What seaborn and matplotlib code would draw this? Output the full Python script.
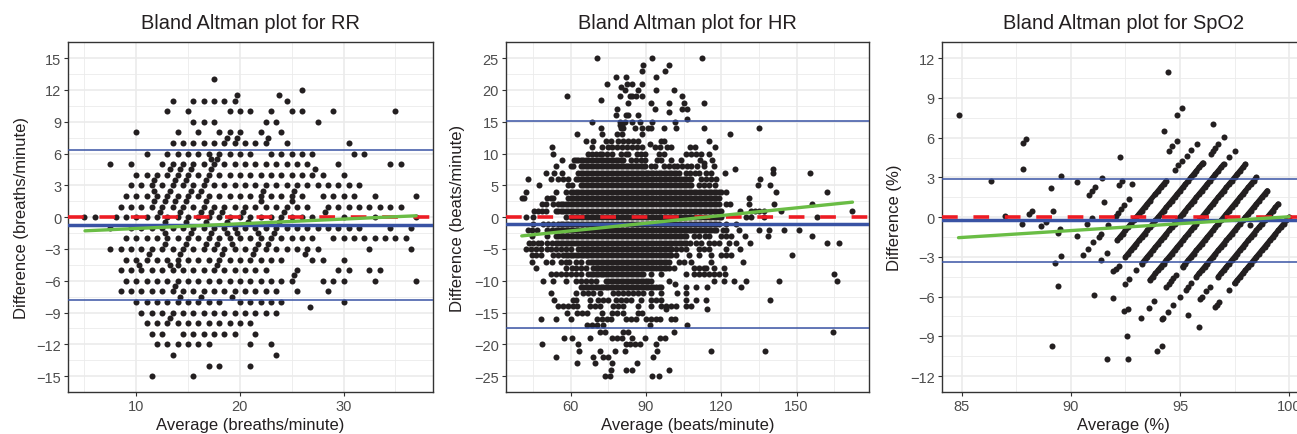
import matplotlib
matplotlib.use("Agg")
import matplotlib.pyplot as plt
import pandas as pd
import seaborn as sns
from matplotlib.ticker import MultipleLocator

# RR: one list of averages per difference level
rr_levels = [13, 12, 11.5, 11, 10, 9, 8, 7.5, 7, 6, 5.5, 5, 4.5, 4, 3.5, 3, 2.5, 2, 1.5, 1, 0.5, 0,
             -0.5, -1, -1.5, -2, -2.5, -3, -3.5, -4, -4.5, -5, -5.5, -6, -6.5, -7, -7.5, -8, -8.5,
             -9, -9.5, -10, -11, -12, -13, -14, -15]
rr_rows = [
    [17.5],
    [26],
    [19.75, 23.75],
    [13.5, 15.5, 16.5, 17.5, 18.5, 19.5, 24.5],
    [13, 15, 19, 20, 21, 23, 25, 26, 29, 35],
    [15.5, 16.5, 17.5, 22.5, 23.5, 27.5],
    [10, 14, 16, 18, 19, 20, 22, 24],
    [18.75, 19.75, 22.75],
    [13.5, 14.5, 15.5, 16.5, 17.5, 18.5, 19.5, 20.5, 21.5, 22.5, 24.5, 30.5],
    [11, 13, 14, 15, 16, 17, 18, 19, 20, 21, 23, 24, 25, 26, 27, 31, 32],
    [17.75, 17.25],
    [7.5, 9.5, 12.5, 13.5, 14.5, 15.5, 16.5, 17.5, 18.5, 19.5, 20.5, 21.5, 22.5, 23.5, 24.5, 25.5, 26.5,
     29.5, 34.5, 35.5],
    [13.25, 14.25, 15.25, 17.25, 27.25],
    [10, 11, 12, 13, 14, 15, 16, 17, 18, 19, 20, 21, 22, 23, 24, 25, 26, 27, 28, 30],
    [11.75, 13.75, 14.75, 16.75],
    [9.5, 10.5, 11.5, 12.5, 13.5, 14.5, 15.5, 16.5, 17.5, 18.5, 19.5, 20.5, 21.5, 22.5, 23.5, 24.5, 25.5,
     26.5, 27.5, 28.5, 29.5, 30.5, 31.5],
    [11.75, 13.25, 15.25, 16.25, 22.25, 25.25],
    [9, 10, 11, 12, 13, 14, 15, 16, 17, 18, 19, 20, 21, 22, 23, 24, 25, 26, 28, 29, 30, 31, 33, 37],
    [11.75, 12.75, 13.75, 14.75, 16.75, 22, 25],
    [8.5, 9.5, 10.5, 11.5, 12.5, 13.5, 14.5, 15.5, 16.5, 17.5, 18.5, 19.5, 20.5, 21.5, 22.5, 23.5, 24.5,
     25.5, 26.5, 28.5, 29.5, 30.5, 31.5, 32.5, 33.5, 34.5, 35.5],
    [12.25, 14.25, 16.25, 17.25, 18.25, 20.25, 24.25, 28.25],
    [5, 6, 8, 9, 10, 11, 12, 13, 14, 15, 16, 17, 18, 19, 20, 21, 22, 23, 24, 25, 26, 27, 30, 33, 37],
    [12.75, 14.75, 16.75, 18.75, 20.75, 23.75],
    [7.5, 9.5, 10.5, 11.5, 12.5, 13.5, 14.5, 15.5, 16.5, 17.5, 18.5, 19.5, 20.5, 21.5, 22.5, 23.5, 24.5,
     25.5, 26.5, 27.5, 28.5, 29.5, 30.5, 31.5, 34.5, 36.5],
    [12.75, 15.25, 17.25, 18.75, 19.75, 21.75, 23.25],
    [9, 10, 11, 12, 13, 14, 15, 16, 17, 18, 19, 20, 21, 22, 23, 24, 25, 26, 27, 29, 30, 31, 32, 33, 34,
     35, 36],
    [12.75, 14.75, 16.75, 17.75, 19.25, 21.75, 22.75],
    [7.5, 8.5, 9.5, 10.5, 11.5, 12.5, 13.5, 14.5, 15.5, 16.5, 17.5, 18.5, 19.5, 20.5, 21.5, 22.5, 23.5,
     24.5, 25.5, 26.5, 27.5, 32.5, 36.5],
    [11.25, 14.25, 18.25, 21.25, 26.25],
    [9, 10, 11, 12, 13, 14, 15, 16, 17, 18, 19, 20, 21, 22, 23, 24, 27, 28, 30],
    [10.25, 13.25, 14, 17.75],
    [8.5, 9.5, 10.5, 11.5, 12.5, 13.5, 14.5, 15.5, 16.5, 17.5, 18.5, 19.5, 20.5, 21.5, 22.5, 25.5, 29.5,
     30.5, 32.5, 33.5],
    [25.25],
    [9, 10, 11, 12, 13, 14, 15, 16, 17, 18, 19, 20, 21, 22, 23, 24, 25, 28, 29, 30, 33, 37],
    [13.75],
    [8.5, 9.5, 10.5, 11.5, 12.5, 13.5, 14.5, 15.5, 16.5, 17.5, 18.5, 19.5, 20.5, 21.5, 22.5, 23.5, 25.5,
     28.5],
    [14.25, 16.25, 19.25],
    [10, 11, 12, 13, 14, 15, 16, 17, 18, 20, 21, 22, 23, 24, 30],
    [26.75],
    [10.5, 11.5, 12.5, 13.5, 14.5, 15.5, 16.5, 17.5, 18.5, 19.5, 20.5, 21.5, 22.5, 23.5],
    [13.25],
    [11, 12, 13, 14, 15, 16, 17, 18, 19, 20, 21],
    [11.5, 12.5, 14.5, 15.5, 16.5, 17.5, 18.5, 19.5, 21.5],
    [12, 13, 14, 15, 16, 17, 21, 23],
    [13.5, 23.5],
    [17, 18, 21],
    [11.5, 15.5],
]

# HR: one list of averages per difference level
hr_levels = [25, 24, 23, 22, 21, 20.5, 20, 19, 18.5, 18, 17, 16.5, 16, 15.5, 15, 14.5, 14, 13, 12, 11.5, 11,
             10, 9, 8.5, 8, 7.5, 7, 6, 5, 4, 3, 2, 1, 0, -1, -2, -3, -4, -5, -6, -7, -8, -9, -10, -10.5,
             -11, -12, -13, -14, -14.5, -15, -16, -17, -18, -19, -20, -21, -22, -23, -24, -25]
hr_rows = [
    [70.5, 92.5, 112.5],
    [89, 99],
    [88.5, 97.5],
    [78, 82, 94],
    [74.5, 82.5, 84.5, 88.5],
    [80.2],
    [81.5, 87, 94, 101],
    [58.5, 79.5, 83.5, 84.5, 86, 88.5, 104.5],
    [72],
    [83, 92, 99, 105, 113],
    [78.5, 93.5, 104.5, 106.5],
    [99],
    [78, 82, 83, 87],
    [106.5],
    [68.5, 79.5, 81.5, 84.5, 87.5, 92.5, 101.5],
    [79.5, 80.5],
    [72, 80, 81, 85.5, 88.5, 91, 92, 97, 102, 113, 135],
    [62.5, 72.5, 78.5, 80.5, 88.5, 123.5],
    [66, 69, 74, 76, 79, 81, 83, 85, 87, 96, 97, 115],
    [91.5],
    [52.5, 68.5, 72.5, 75, 76.5, 78.5, 80.5, 82.5, 84.5, 86.5, 88.5, 93.5, 95.5, 98.5, 100, 107.5, 109.5, 117.5],
    [53, 67, 68.5, 70, 71.5, 72.5, 74.5, 76.5, 80, 82, 83, 86.5, 88, 89.5, 95, 97, 106, 108, 110, 112, 115],
    [56.5, 61.5, 63, 65, 67, 69, 71, 73, 75, 77, 79, 81, 84, 86, 88, 89.5, 94.5, 96, 100, 104, 111.5, 116.5],
    [113],
    [54, 60, 61, 64, 66, 68, 70, 72, 74, 76, 78, 80, 82, 84, 86, 88, 89.5, 92, 93.5, 97, 99, 101, 102.5, 104.5,
     106.5, 108, 110.5, 113, 117],
    [125.5, 140.5],
    [50, 53.5, 56.5, 63, 65, 67, 69, 71, 73, 75, 77, 79, 81, 83, 85, 87, 89, 91, 93, 95, 97, 99, 101, 103, 106,
     107.5, 109.5, 111, 114, 116, 121.5, 140.5, 155.5],
    [43, 52, 55, 57, 59, 62, 64, 66, 68, 70, 72, 74, 76, 78, 80, 82, 84, 86, 88, 90, 92, 94, 96, 98, 100, 102,
     104, 106, 108, 112, 114, 116, 118, 135.5],
    [47.5, 59, 60.5, 64, 66, 68, 70, 72, 74, 76, 78, 80, 82, 84, 86, 88, 90, 92, 94, 96, 98, 100, 102, 104, 106,
     108, 111, 113, 115, 117.5, 134.5, 139.5],
    [42, 54, 58, 60, 62, 64, 66, 68, 70, 72, 74, 76, 78, 80, 82, 84, 86, 88, 90, 92, 94, 96, 98, 100, 102, 104,
     106, 108, 110, 112, 114, 116, 118, 120, 122, 142, 162],
    [40.5, 41.5, 50.5, 52, 53, 59, 61, 63, 65, 67, 69, 71, 73, 75, 77, 79, 81, 83, 85, 87, 89, 91, 93, 95, 97, 99,
     101, 103, 105, 107, 109, 111, 113, 115, 117, 119, 131],
    [48.5, 50, 53, 55, 57, 59, 61, 63, 65, 67, 69, 71, 73, 75, 77, 79, 81, 83, 85, 87, 89, 91, 93, 95, 97, 99, 101,
     103, 105, 107, 109, 111, 113, 115, 117, 119, 122, 123.5, 131, 141, 156],
    [45.5, 47, 48.5, 50, 54, 56, 58, 60, 62, 64, 66, 68, 70, 72, 74, 76, 78, 80, 82, 84, 86, 88, 90, 92, 94, 96, 98,
     100, 102, 104, 106, 108, 110, 112, 114, 116, 118, 120, 127.5, 132, 133.5, 135, 137, 144, 172],
    [42, 45, 58, 60, 62, 64, 66, 68, 70, 72, 74, 76, 78, 80, 82, 84, 86, 88, 90, 92, 94, 96, 98, 100, 102, 104, 106,
     108, 110, 112, 114, 116, 118, 120, 130, 132, 137, 158],
    [45, 49, 51, 53, 55, 57, 59, 61, 63, 65, 67, 69, 71, 73, 75, 77, 79, 81, 83, 85, 87, 89, 91, 93, 95, 97, 99, 101,
     103, 105, 107, 109, 111, 113, 115, 117, 119, 122, 126],
    [43, 44.5, 46.5, 50.5, 52.5, 54, 56, 58, 60, 62, 64, 66, 68, 70, 72, 74, 76, 78, 80, 82, 84, 86, 88, 90, 92, 94,
     96, 98, 100, 102, 104, 106, 108, 110, 112, 114, 116, 118, 120.5, 122, 127, 135, 139, 145, 151],
    [44.5, 50.5, 54, 56, 58, 60, 62, 64, 66, 68, 70, 72, 74, 76, 78, 80, 82, 84, 86, 88, 90, 92, 94, 96, 98, 100, 102,
     104, 106, 109, 111, 113.5, 115, 120, 122, 124, 129.5, 138.5, 156],
    [43.5, 45, 47, 48, 50.5, 52.5, 54, 56, 58, 60, 62, 64, 66, 68, 70, 72, 74, 76, 78, 80, 82, 84, 86, 88, 90, 92, 94,
     96, 98, 100, 102, 104, 106, 107.5, 110, 112, 115, 117, 119, 123, 126, 131.5, 162, 167],
    [42, 44, 46, 48, 50.5, 52, 54, 56, 58, 60, 63, 65, 67, 69, 71, 73, 75, 77, 79, 81, 83, 85, 87, 89, 91, 93, 95, 97,
     99, 100, 102, 104, 106, 111, 113, 115, 122, 127.5],
    [44.5, 46, 48, 53, 55, 57, 59, 61, 63, 65, 67, 69, 71, 73, 75, 77, 79, 81, 83, 85, 87, 89, 91, 93, 95, 97, 99, 102,
     107, 111, 116, 120, 122, 124, 148],
    [44.5, 50, 52.5, 56, 58, 59.5, 62, 64, 67, 69, 71, 73, 75, 77, 79, 81, 83, 85, 87, 89, 91, 93, 95, 97, 99, 103, 105,
     108, 116, 128.5],
    [46, 58, 60.5, 62, 64, 66, 69, 71, 73, 75, 77, 79, 81, 83, 85, 87, 89, 91, 93, 95, 97, 99, 101, 109, 111, 113, 114,
     117, 121],
    [52, 54, 56, 58, 60, 62, 64, 67, 69, 71, 73, 75, 77, 79, 81, 83, 85, 87, 89, 92, 96, 106, 109, 111, 113, 115, 117,
     119, 121.5, 165],
    [49, 53, 58, 62, 64, 66, 68, 70, 74, 76, 78, 80, 82, 84, 86, 88, 90, 92, 99, 117, 121, 125, 130, 143, 166],
    [101.5],
    [64, 66, 68, 70, 72, 74, 76, 78, 80, 82, 84, 86, 88, 90, 92, 94, 96, 106, 110, 114.5, 128],
    [52, 62, 65, 67, 69, 71.5, 77, 79, 81, 83, 85, 87, 89, 92, 96, 102.5, 106],
    [53.5, 61, 62, 67.5, 71, 73, 75, 78, 80, 82, 84, 88, 92, 94, 96, 106, 110, 114, 139.5],
    [55, 57, 59, 61, 62.5, 67.5, 69.5, 71.5, 77, 79, 81, 87, 92, 96, 98, 100, 102, 106, 108],
    [98, 114.5],
    [58.5, 62.5, 64.5, 66.5, 72.5, 76.5, 78.5, 81, 87, 88.5],
    [48, 54, 60, 70.5, 72.5, 74.5, 76, 82, 84, 86, 90, 92, 94, 95.5, 100, 101.5],
    [66.5, 68.5, 70.5, 73, 91.5, 106.5],
    [71.5, 73.5, 81, 83, 101, 164.5],
    [57.5, 60.5, 67.5, 76.5, 78.5, 80.5, 84.5, 89.5, 95.5, 97.5],
    [48.5, 63, 82, 83.5, 85.5, 87.5, 94],
    [63.5, 71.5, 77.5, 81.5, 94.5, 116, 137.5],
    [54, 69, 73, 75, 93],
    [62.5, 69.5, 76.5, 86.5],
    [76, 82, 84.5, 99],
    [73.5, 75.5, 92.5, 95],
]

# HR: the solid black bands hold many more readings per level
hr_band_levels = [9, 8, 7, 6, 5, 4, 3, 2, 1, 0, -1, -2, -3, -4, -5, -6, -7, -8, -9, -10, -11]
hr_band_rows = [
    [62, 64, 66, 68, 70, 72, 74, 76, 78, 80],
    [65, 67, 69, 71, 73, 75, 77, 79, 81, 83, 85, 87, 89],
    [64, 66, 68, 70, 72, 74, 76, 78, 80, 82, 84, 86, 88, 90, 92, 94, 96, 98, 100, 102],
    [63, 65, 67, 69, 71, 73, 75, 77, 79, 81, 83, 85, 87, 89, 91, 93, 95, 97, 99, 101, 103, 105, 107],
    [65, 67, 69, 71, 73, 75, 77, 79, 81, 83, 85, 87, 89, 91, 93, 95, 97, 99, 101, 103, 105, 107],
    [61, 63, 65, 67, 69, 71, 73, 75, 77, 79, 81, 83, 85, 87, 89, 91, 93, 95, 97, 99, 101, 103, 105, 107, 109, 111,
     113, 115, 117, 119],
    [60, 62, 64, 66, 68, 70, 72, 74, 76, 78, 80, 82, 84, 86, 88, 90, 92, 94, 96, 98, 100, 102, 104, 106, 108, 110,
     112, 114, 116, 118],
    [56, 58, 60, 62, 64, 66, 68, 70, 72, 74, 76, 78, 80, 82, 84, 86, 88, 90, 92, 94, 96, 98, 100, 102, 104, 106, 108,
     110, 112, 114, 116, 118],
    [55, 57, 59, 61, 63, 65, 67, 69, 71, 73, 75, 77, 79, 81, 83, 85, 87, 89, 91, 93, 95, 97, 99, 101, 103, 105, 107,
     109, 111, 113, 115, 117, 119],
    [61, 63, 65, 67, 69, 71, 73, 75, 77, 79, 81, 83, 85, 87, 89, 91, 93, 95, 97, 99, 101, 103, 105, 107, 109, 111,
     113, 115, 117, 119],
    [56, 58, 60, 62, 64, 66, 68, 70, 72, 74, 76, 78, 80, 82, 84, 86, 88, 90, 92, 94, 96, 98, 100, 102, 104, 106, 108,
     110, 112, 114, 116, 118],
    [55, 57, 59, 61, 63, 65, 67, 69, 71, 73, 75, 77, 79, 81, 83, 85, 87, 89, 91, 93, 95, 97, 99, 101, 103, 105, 107,
     109, 111, 113, 115, 117],
    [55, 57, 59, 61, 63, 65, 67, 69, 71, 73, 75, 77, 79, 81, 83, 85, 87, 89, 91, 93, 95, 97, 99, 101, 103, 105],
    [55, 57, 59, 61, 63, 65, 67, 69, 71, 73, 75, 77, 79, 81, 83, 85, 87, 89, 91, 93, 95, 97, 99, 101, 103, 105],
    [64, 66, 68, 70, 72, 74, 76, 78, 80, 82, 84, 86, 88, 90, 92, 94, 96, 98, 100],
    [58, 60, 62, 64, 66, 68, 70, 72, 74, 76, 78, 80, 82, 84, 86, 88, 90, 92, 94, 96, 98, 100],
    [68, 70, 72, 74, 76, 78, 80, 82, 84, 86, 88, 90, 92, 94, 96, 98],
    [70, 72, 74, 76, 78, 80, 82, 84, 86, 88, 90, 92, 94, 96, 98],
    [68, 70, 72, 74, 76, 78, 80, 82, 84, 86, 88],
    [75, 77, 79, 81, 83, 85, 87, 89, 91],
    [65, 67, 69, 71, 73, 75, 77, 79, 81, 83, 85, 87, 89, 91, 93, 95],
]

# SpO2: readings fall on diagonal streaks, one pair of lists per streak
spo2_avg_93 = [92.125, 92.25, 92.375, 92.5, 92.625, 92.75, 92.875, 93, 93.125, 93.25, 93.375, 93.5, 93.625, 93.875,
               94, 94.125, 94.25, 94.375]
spo2_diff_93 = [-1.75, -1.5, -1.25, -1, -0.75, -0.5, -0.25, 0, 0.25, 0.5, 0.75, 1, 1.25, 1.75, 2, 2.25, 2.5, 2.75]
spo2_avg_94 = [92.5, 92.625, 92.75, 92.875, 93, 93.125, 93.25, 93.375, 93.5, 93.625, 93.75, 93.875, 94, 94.125,
               94.25, 94.375, 94.5, 94.625, 94.75, 94.875, 95, 95.125, 95.25, 95.375, 95.5, 95.625, 95.75, 95.875,
               96, 96.05]
spo2_diff_94 = [-3, -2.75, -2.5, -2.25, -2, -1.75, -1.5, -1.25, -1, -0.75, -0.5, -0.25, 0, 0.25, 0.5, 0.75, 1, 1.25,
                1.5, 1.75, 2, 2.25, 2.5, 2.75, 3, 3.25, 3.5, 3.75, 4, 4.1]
spo2_avg_95 = [93.25, 93.375, 93.5, 93.625, 93.75, 93.875, 94, 94.125, 94.25, 94.375, 94.5, 94.625, 94.75, 94.875,
               95, 95.125, 95.25, 95.375, 95.5, 95.625, 95.75, 95.875, 96, 96.125, 96.25, 96.375, 96.5, 96.625,
               96.75, 96.875, 97]
spo2_diff_95 = [-3.5, -3.25, -3, -2.75, -2.5, -2.25, -2, -1.75, -1.5, -1.25, -1, -0.75, -0.5, -0.25, 0, 0.25, 0.5,
                0.75, 1, 1.25, 1.5, 1.75, 2, 2.25, 2.5, 2.75, 3, 3.25, 3.5, 3.75, 4]
spo2_avg_96 = [93.625, 93.75, 93.875, 94, 94.125, 94.25, 94.375, 94.5, 94.625, 94.75, 94.875, 95, 95.125, 95.25,
               95.375, 95.5, 95.625, 95.75, 95.875, 96, 96.125, 96.25, 96.375, 96.5, 96.625, 96.75, 96.875, 97,
               97.125, 97.25, 97.375, 97.5, 97.625, 97.75, 97.875, 98]
spo2_diff_96 = [-4.75, -4.5, -4.25, -4, -3.75, -3.5, -3.25, -3, -2.75, -2.5, -2.25, -2, -1.75, -1.5, -1.25, -1, -0.75,
                -0.5, -0.25, 0, 0.25, 0.5, 0.75, 1, 1.25, 1.5, 1.75, 2, 2.25, 2.5, 2.75, 3, 3.25, 3.5, 3.75, 4]
spo2_avg_97 = [95.125, 95.25, 95.375, 95.5, 95.625, 95.75, 95.875, 96, 96.125, 96.25, 96.375, 96.5, 96.625, 96.75,
               96.875, 97, 97.125, 97.25, 97.375, 97.5, 97.625, 97.75, 97.875, 98, 98.125, 98.25, 98.375, 98.5]
spo2_diff_97 = [-3.75, -3.5, -3.25, -3, -2.75, -2.5, -2.25, -2, -1.75, -1.5, -1.25, -1, -0.75, -0.5, -0.25, 0, 0.25,
                0.5, 0.75, 1, 1.25, 1.5, 1.75, 2, 2.25, 2.5, 2.75, 3]
spo2_avg_98 = [95.75, 95.875, 96, 96.125, 96.25, 96.375, 96.5, 96.625, 96.75, 96.875, 97, 97.125, 97.25, 97.375, 97.5,
               97.625, 97.75, 97.875, 98, 98.125, 98.25, 98.375, 98.5, 98.625, 98.75, 98.875, 99]
spo2_diff_98 = [-4.5, -4.25, -4, -3.75, -3.5, -3.25, -3, -2.75, -2.5, -2.25, -2, -1.75, -1.5, -1.25, -1, -0.75, -0.5,
                -0.25, 0, 0.25, 0.5, 0.75, 1, 1.25, 1.5, 1.75, 2]
spo2_avg_99 = [96.75, 96.875, 97, 97.125, 97.25, 97.375, 97.5, 97.625, 97.75, 97.875, 98, 98.125, 98.25, 98.375, 98.5,
               98.625, 98.75, 98.875, 99, 99.125, 99.25, 99.375, 99.5]
spo2_diff_99 = [-4.5, -4.25, -4, -3.75, -3.5, -3.25, -3, -2.75, -2.5, -2.25, -2, -1.75, -1.5, -1.25, -1, -0.75, -0.5,
                -0.25, 0, 0.25, 0.5, 0.75, 1]
spo2_avg_100 = [97.5, 97.625, 97.75, 97.875, 98, 98.125, 98.25, 98.375, 98.5, 98.625, 98.75, 98.875, 99, 99.125, 99.25,
                99.375, 99.5, 99.625, 99.75, 99.875, 100]
spo2_diff_100 = [-5, -4.75, -4.5, -4.25, -4, -3.75, -3.5, -3.25, -3, -2.75, -2.5, -2.25, -2, -1.75, -1.5, -1.25, -1,
                 -0.75, -0.5, -0.25, 0]
spo2_avg_other = [84.85, 86.34, 87.79, 87.95, 87.79, 86.98, 88.08, 88.2, 89.2, 89.09, 89.55, 90.3, 90.82, 90.95, 91.1,
                  91.44, 91.53, 92.25, 92.19, 92.36, 92.05, 92.15, 92.3, 92.45, 92.65, 92.82, 94.45, 94.85, 95.09, 94.25,
                  94.51, 94.65, 94.85, 96.5, 97.03, 96.74, 96.6, 96.4, 96.5, 95.76, 95.52, 95.3, 95.07, 94.77, 94.92,
                  97.26, 97.5, 91.95, 92.05, 92.2, 92.48, 92.68, 93, 93.23, 93.6, 93.8, 91.95, 92.45, 92.6, 92.56, 93.93,
                  94.16, 89.14, 91.64, 92.63, 91.05, 89.4, 89.53, 89.29, 91.37, 91.67, 89.52, 89.43, 90.3, 88.65, 87.75,
                  88.85, 90.74, 90.97, 98.2, 91, 90.8, 90.57, 91.3, 91.4, 91.7, 94.36, 94.48, 94.6, 94.7, 94.82, 95.26,
                  95.38, 95.5, 95, 94.7, 94.47, 94.16, 94.2, 95.9, 96, 96.2, 96.37, 95.35, 95.87, 97.26, 96.6, 96.7,
                  96.8]
spo2_diff_other = [7.73, 2.73, 5.63, 5.93, 3.64, 0.05, 0.25, 0.45, 0.48, 2.22, 3.13, 2.63, 1.64, 1.94, 2.25, 2.93, 1.11,
                   4.52, 2.45, 2.7, 0.1, 0.3, 0.6, 0.95, 1.35, 2.53, 10.96, 7.73, 8.26, 6.54, 5.03, 5.35, 5.73, 7.05,
                   6.06, 5.5, 5.25, 4.8, 5, 5.53, 5.05, 4.65, 4.24, 3.54, 3.9, 4.55, 5, -4.1, -3.9, -3.7, -5.08, -4.65, -4,
                   -7.6, -6.84, -6.34, -6.1, -7.1, -6.9, -8.94, -10.1, -9.75, -9.75, -10.73, -10.73, -5.9, -5.23, -2.93,
                   -3.43, -3.26, -2.68, -0.9, -1.16, -1.4, -0.7, -0.5, -0.33, -0.5, -0.03, -0.6, -1.9, -2.4, -2.85, -1.5,
                   -1.3, -0.6, -5.3, -5.05, -4.8, -4.6, -4.4, -5.5, -5.25, -5, -6, -6.65, -7.15, -7.7, -7.6, -6.2, -6,
                   -5.6, -5.3, -7.35, -8.3, -5.5, -6.8, -6.6, -6.4]

# limits of agreement and fitted trend of each panel
rr_mean, rr_upper, rr_lower = -0.75, 6.33, -7.8
hr_mean, hr_upper, hr_lower = -1.15, 15.15, -17.4
spo2_mean, spo2_upper, spo2_lower = -0.25, 2.88, -3.36
rr_fit_x, rr_fit_y = [5.05, 37], [-1.29, 0.13]
hr_fit_x, hr_fit_y = [40.5, 172.3], [-2.95, 2.36]
spo2_fit_x, spo2_fit_y = [84.85, 100], [-1.55, 0.03]

W, H = 1297, 435
PANEL_TOP, PANEL_BOTTOM = 43.3, 393

sns.set_theme(style="white")
plt.rcParams["font.family"] = ["Liberation Sans", "DejaVu Sans"]


def rows_to_frame(levels, rows):
    pairs = [(x, y) for y, row in zip(levels, rows) for x in row]
    return pd.DataFrame(pairs, columns=["avg", "diff"])


def draw_panel(left, right, df, title, xlabel, ylabel, xlim, ylim, xstep, ystep, limits, fit_x, fit_y, label_x):
    ax = fig.add_axes([left / W, 1 - PANEL_BOTTOM / H, (right - left) / W, (PANEL_BOTTOM - PANEL_TOP) / H])
    ax.set_axisbelow(True)
    ax.xaxis.set_major_locator(MultipleLocator(xstep))
    ax.xaxis.set_minor_locator(MultipleLocator(xstep / 2))
    ax.yaxis.set_major_locator(MultipleLocator(ystep))
    ax.yaxis.set_minor_locator(MultipleLocator(ystep / 2))
    ax.grid(which="major", color="#ebebeb", linewidth=1.2)
    ax.grid(which="minor", color="#ebebeb", linewidth=0.6)

    sns.scatterplot(data=df, x="avg", y="diff", color="#231f20", s=19, linewidth=0, ax=ax, zorder=2)

    mean, upper, lower = limits
    ax.axhline(mean, color="#3953a4", linewidth=2.5, zorder=3)
    ax.axhline(upper, color="#3953a4", linewidth=1.1, zorder=3)
    ax.axhline(lower, color="#3953a4", linewidth=1.1, zorder=3)
    ax.axhline(0, color="#ed1c24", linewidth=2.6, linestyle=(0, (4.35, 4.35)), dash_capstyle="butt", zorder=4)
    sns.lineplot(x=fit_x, y=fit_y, color="#6abd45", linewidth=2.4, ax=ax, zorder=5)

    ax.set_xlim(xlim)
    ax.set_ylim(ylim)
    ax.set_title(title, fontsize=14.4, color="#231f20", pad=10)
    ax.set_xlabel(xlabel, fontsize=12, color="#231f20", labelpad=3)
    ax.set_ylabel(ylabel, fontsize=12, color="#231f20")
    ax.yaxis.set_label_coords((label_x - left) / (right - left), 0.5)
    ax.tick_params(which="major", length=3, width=0.8, color="#333333", labelcolor="#4d4d4d", labelsize=10.5,
                   pad=2, bottom=True, left=True)
    ax.tick_params(which="minor", length=0)
    for spine in ax.spines.values():
        spine.set_color("#333333")
        spine.set_linewidth(1.0)
    return ax


rr_df = rows_to_frame(rr_levels, rr_rows)
hr_df = pd.concat([rows_to_frame(hr_levels, hr_rows), rows_to_frame(hr_band_levels, hr_band_rows)])
spo2_streaks = [(spo2_avg_93, spo2_diff_93), (spo2_avg_94, spo2_diff_94), (spo2_avg_95, spo2_diff_95),
                (spo2_avg_96, spo2_diff_96), (spo2_avg_97, spo2_diff_97), (spo2_avg_98, spo2_diff_98),
                (spo2_avg_99, spo2_diff_99), (spo2_avg_100, spo2_diff_100)]
spo2_df = pd.DataFrame({
    "avg": sum((s[0] for s in spo2_streaks), []) + spo2_avg_other,
    "diff": sum((s[1] for s in spo2_streaks), []) + spo2_diff_other,
})

fig = plt.figure(figsize=(W / 100, H / 100), dpi=100)
draw_panel(68.3, 432.7, rr_df, "Bland Altman plot for RR", "Average (breaths/minute)", "Difference (breaths/minute)",
           (3.44, 38.6), (-16.5, 16.5), 10, 3, (rr_mean, rr_upper, rr_lower), rr_fit_x, rr_fit_y, 29)
draw_panel(505.7, 869.3, hr_df, "Bland Altman plot for HR", "Average (beats/minute)", "Difference (beats/minute)",
           (34.1, 179), (-27.5, 27.5), 30, 5, (hr_mean, hr_upper, hr_lower), hr_fit_x, hr_fit_y, 465)
ax3 = draw_panel(941.7, 1305.7, spo2_df, "Bland Altman plot for SpO2", "Average (%)", "Difference (%)",
                 (84.08, 100.76), (-13.2, 13.2), 5, 3, (spo2_mean, spo2_upper, spo2_lower), spo2_fit_x, spo2_fit_y, 902)

# the streaks overlap into solid bars, close the notches between the dots
for streak_avg, streak_diff in spo2_streaks:
    ax3.plot(streak_avg, streak_diff, color="#231f20", linewidth=3.7, solid_capstyle="round", zorder=2)

fig.savefig("out.png", dpi=100)
